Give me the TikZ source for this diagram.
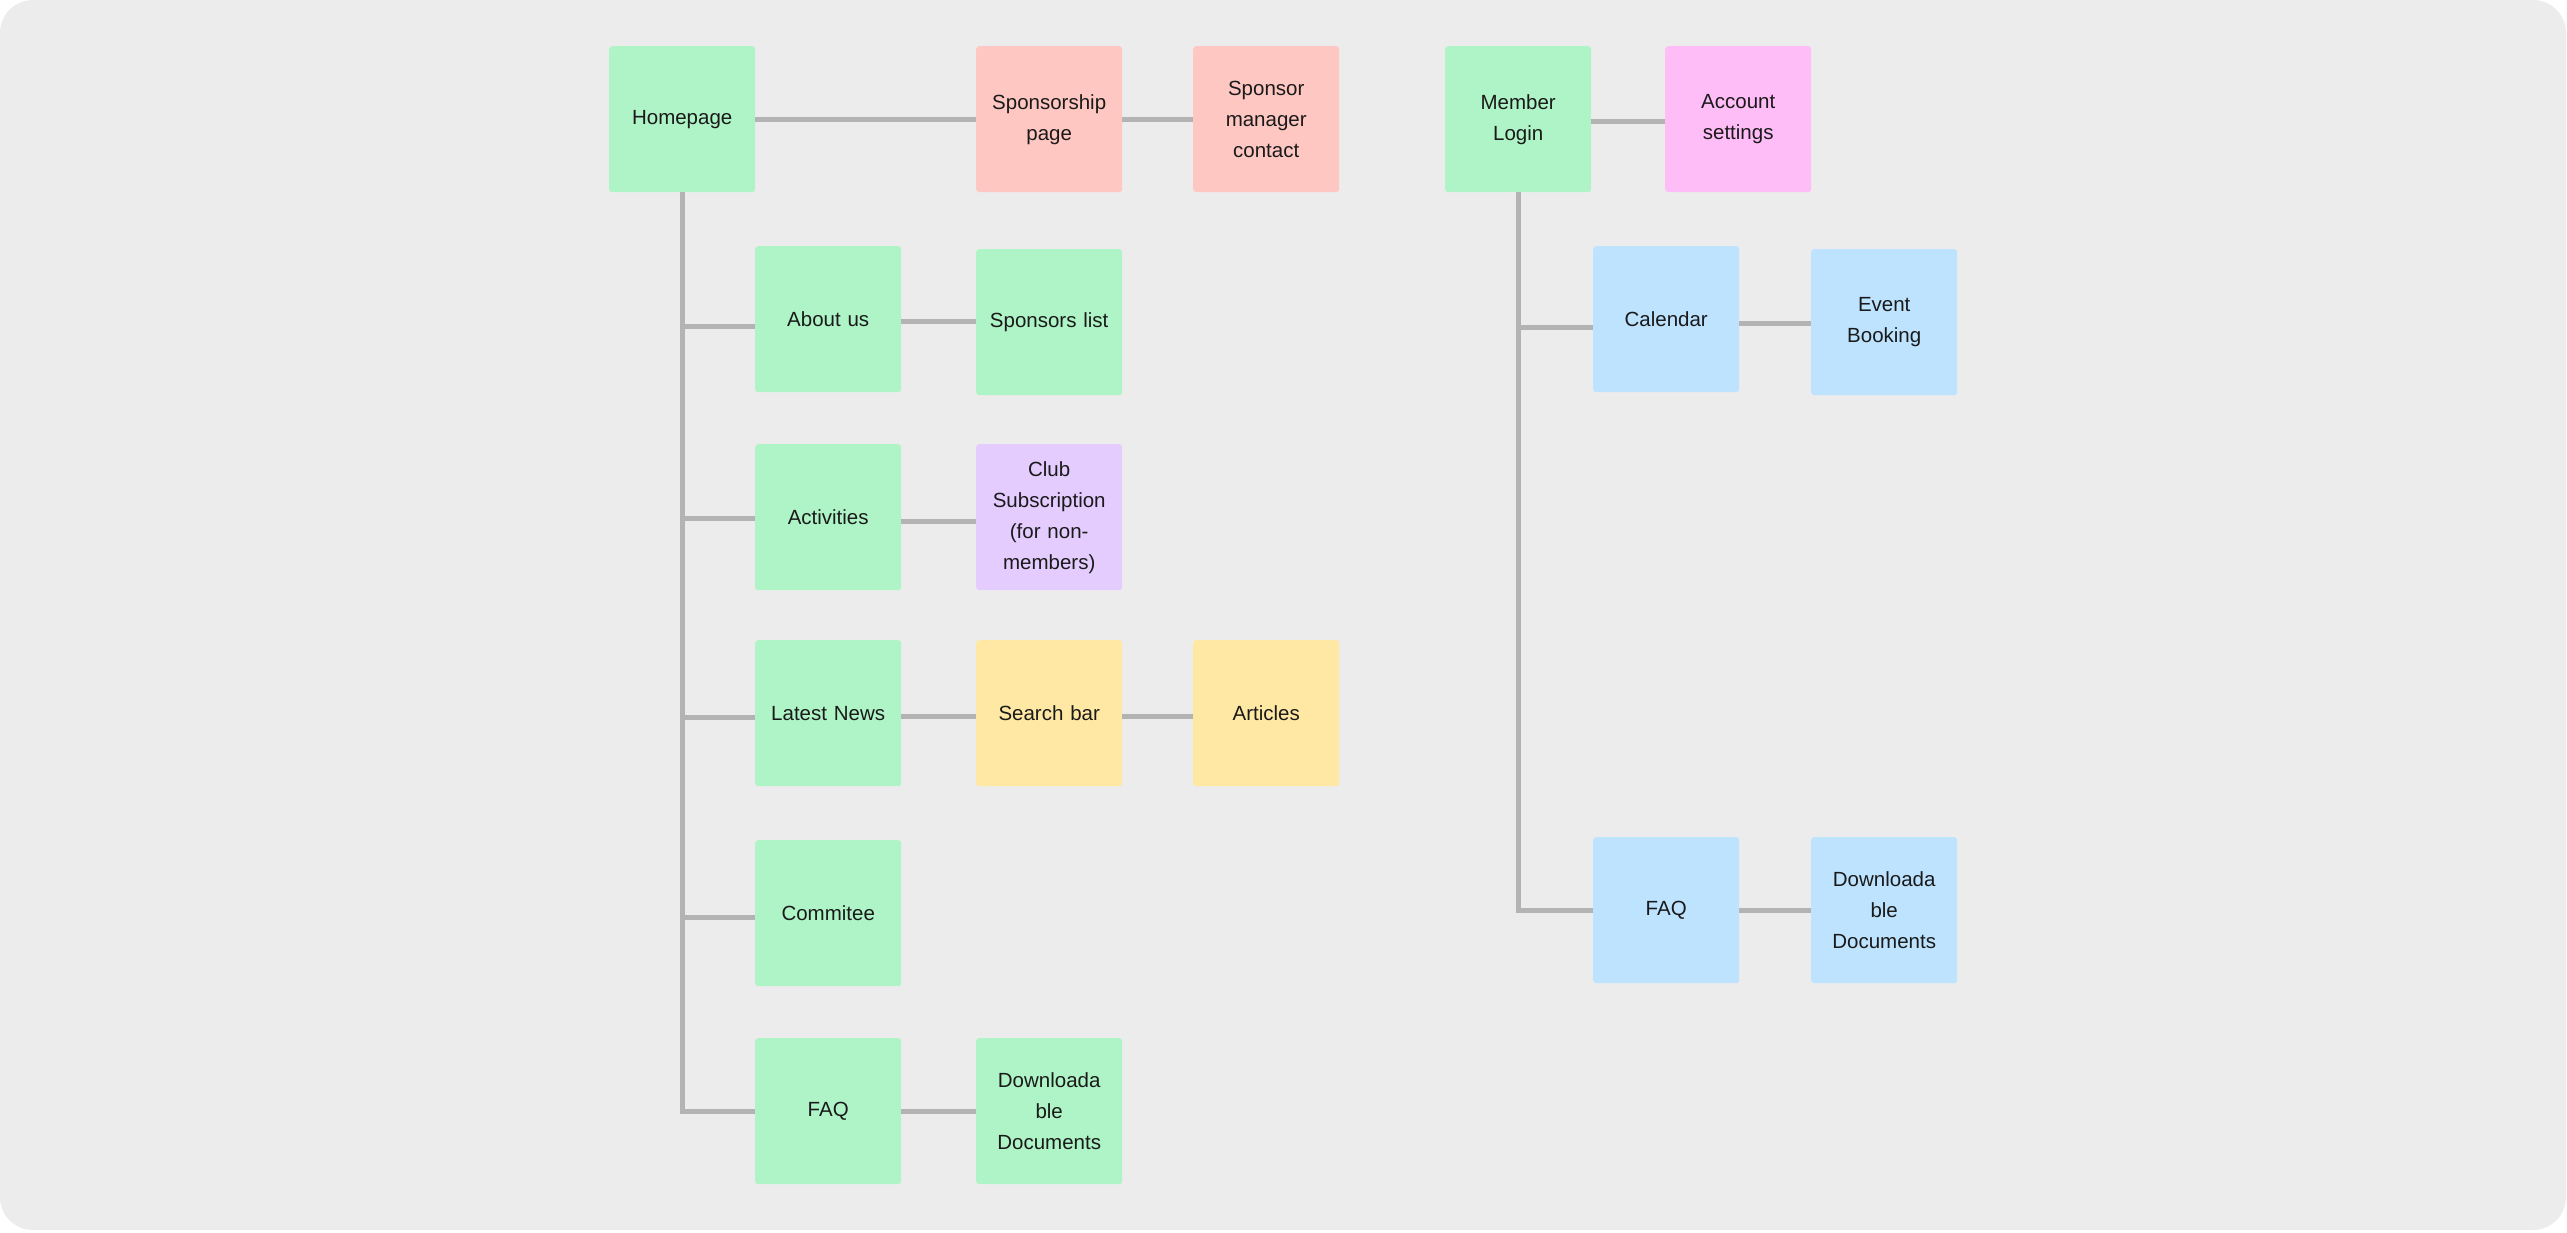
\documentclass[tikz,border=0pt]{standalone}
\usepackage{fontspec}
\setmainfont{Liberation Sans}
\definecolor{bgc}{HTML}{ECECEC}
\definecolor{gre}{HTML}{AFF4C6}
\definecolor{sal}{HTML}{FFC7C2}
\definecolor{pnk}{HTML}{FFBDF8}
\definecolor{pur}{HTML}{E4CCFF}
\definecolor{yel}{HTML}{FFE8A3}
\definecolor{blu}{HTML}{BDE3FF}
\definecolor{lin}{HTML}{B3B3B3}
\definecolor{txt}{HTML}{1A1A1A}
\begin{document}
\begin{tikzpicture}[x=1pt,y=-1pt,
  card/.style={minimum width=146pt,minimum height=146pt,inner sep=0pt,rounded corners=3pt,
    align=center,text width=140pt,text=txt,font=\fontsize{20.5}{31}\selectfont,anchor=north west},
  conn/.style={draw=lin,line width=5pt}]
\fill[white] (0,0) rectangle (2567,1232);
\fill[bgc,rounded corners=33pt] (0,0) rectangle (2566,1230);
\useasboundingbox (0,0) rectangle (2567,1232);

\node[card,fill=gre] (home) at (609,46) {Homepage};
\node[card,fill=sal] (spons) at (976,46) {Sponsorship\\page};
\node[card,fill=sal] (smgr) at (1193,46) {Sponsor\\manager\\contact};
\node[card,fill=gre] (login) at (1445,46) {Member\\Login};
\node[card,fill=pnk] (acct) at (1665,46) {Account\\settings};
\node[card,fill=gre] (about) at (755,246) {About us};
\node[card,fill=gre] (slist) at (976,249) {Sponsors list};
\node[card,fill=gre] (act) at (755,444) {Activities};
\node[card,fill=pur] (club) at (976,444) {Club\\Subscription\\(for non-\\members)};
\node[card,fill=gre] (news) at (755,640) {Latest News};
\node[card,fill=yel] (search) at (976,640) {Search bar};
\node[card,fill=yel] (art) at (1193,640) {Articles};
\node[card,fill=gre] (comm) at (755,840) {Commitee};
\node[card,fill=gre] (faq) at (755,1038) {FAQ};
\node[card,fill=gre] (dl) at (976,1038) {Downloada\\ble\\Documents};
\node[card,fill=blu] (cal) at (1593,246) {Calendar};
\node[card,fill=blu] (event) at (1811,249) {Event\\Booking};
\node[card,fill=blu] (faqb) at (1593,837) {FAQ};
\node[card,fill=blu] (dlb) at (1811,837) {Downloada\\ble\\Documents};

\coordinate (bAbout) at ([yshift=-7pt]about.west);
\coordinate (bAct) at ([yshift=-1pt]act.west);
\coordinate (bNews) at ([yshift=-4pt]news.west);
\coordinate (bComm) at ([yshift=-4pt]comm.west);
\coordinate (bCal) at ([yshift=-8pt]cal.west);

\draw[conn] (home.east) -- (spons.west);
\draw[conn] (spons.east) -- (smgr.west);
\draw[conn] ([yshift=-2pt]login.east) -- ([yshift=-2pt]acct.west);
\draw[conn] (home.south) -- (home.south |- faq.west) -- (faq.west);
\draw[conn] (home.south |- bAbout) -- (bAbout);
\draw[conn] (home.south |- bAct) -- (bAct);
\draw[conn] (home.south |- bNews) -- (bNews);
\draw[conn] (home.south |- bComm) -- (bComm);
\draw[conn] ([yshift=-2pt]about.east) -- ([yshift=-2pt]slist.west |- about.east);
\draw[conn] ([yshift=-4pt]act.east) -- ([yshift=-4pt]club.west);
\draw[conn] ([yshift=-3pt]news.east) -- ([yshift=-3pt]search.west);
\draw[conn] ([yshift=-3pt]search.east) -- ([yshift=-3pt]art.west);
\draw[conn] (faq.east) -- (dl.west);
\draw[conn] (login.south) -- (login.south |- faqb.west) -- (faqb.west);
\draw[conn] (login.south |- bCal) -- (bCal);
\draw[conn] ([yshift=-4pt]cal.east) -- ([yshift=-4pt]event.west |- cal.east);
\draw[conn] (faqb.east) -- (dlb.west);
\end{tikzpicture}
\end{document}
